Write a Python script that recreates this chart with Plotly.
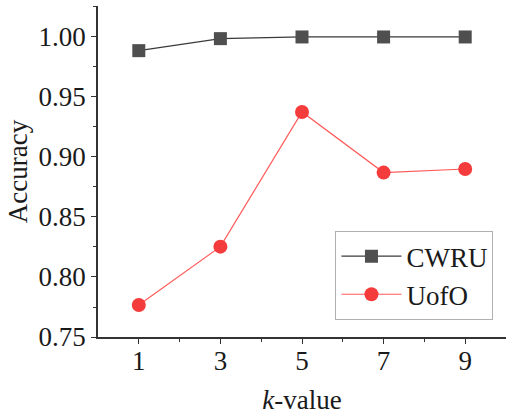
import plotly.graph_objects as go

k_values = [1, 3, 5, 7, 9]
cwru = [0.9886, 0.9986, 1.0, 1.0, 1.0]
uofo = [0.7767, 0.8253, 0.9375, 0.887, 0.890]
y_ticks = [0.75, 0.80, 0.85, 0.90, 0.95, 1.00]
y_tick_labels = ["0.75", "0.80", "0.85", "0.90", "0.95", "1.00"]

FONT = "Liberation Serif, Times New Roman, serif"

fig = go.Figure()
fig.add_trace(go.Scatter(
    x=k_values, y=cwru, name="CWRU", mode="lines+markers",
    line=dict(color="#3a3a3a", width=1.2),
    marker=dict(symbol="square", size=13, color="#4f4f4f"),
))
fig.add_trace(go.Scatter(
    x=k_values, y=uofo, name="UofO", mode="lines+markers",
    line=dict(color="#ff5a5a", width=1.2),
    marker=dict(symbol="circle", size=14, color="#f53c3c"),
))

fig.update_layout(
    width=506, height=418,
    margin=dict(l=98, r=0, t=6, b=81),
    paper_bgcolor="white", plot_bgcolor="white",
    font=dict(family=FONT, size=27, color="#1a1a1a"),
    showlegend=True,
    legend=dict(
        x=0.582, y=0.32, xanchor="left", yanchor="top",
        bordercolor="#b0b0b0", borderwidth=1, bgcolor="white",
        font=dict(family=FONT, size=27),
        tracegroupgap=0, itemwidth=60,
    ),
    xaxis=dict(
        range=[0, 10], tickvals=k_values, ticktext=[str(v) for v in k_values],
        showgrid=False, zeroline=False, showline=True, linecolor="#333333", linewidth=1.5,
        ticks="outside", ticklen=5, tickwidth=1.2, tickcolor="#333333",
        ticklabelstandoff=-6,
        minor=dict(tickvals=[2, 4, 6, 8], ticks="outside", ticklen=3, tickcolor="#333333", showgrid=False),
        title=dict(text="<i>k</i>-value", font=dict(family=FONT, size=27), standoff=15),
    ),
    yaxis=dict(
        range=[0.75, 1.0258], tickvals=y_ticks, ticktext=y_tick_labels,
        showgrid=False, zeroline=False, showline=True, linecolor="#333333", linewidth=1.5,
        ticks="outside", ticklen=5, tickwidth=1.2, tickcolor="#333333",
        minor=dict(tickvals=[0.775, 0.825, 0.875, 0.925, 0.975, 1.025], ticks="outside", ticklen=3, tickcolor="#333333", showgrid=False),
        title=dict(text="Accuracy", font=dict(family=FONT, size=27), standoff=3),
    ),
)

fig.write_html("out.html")
